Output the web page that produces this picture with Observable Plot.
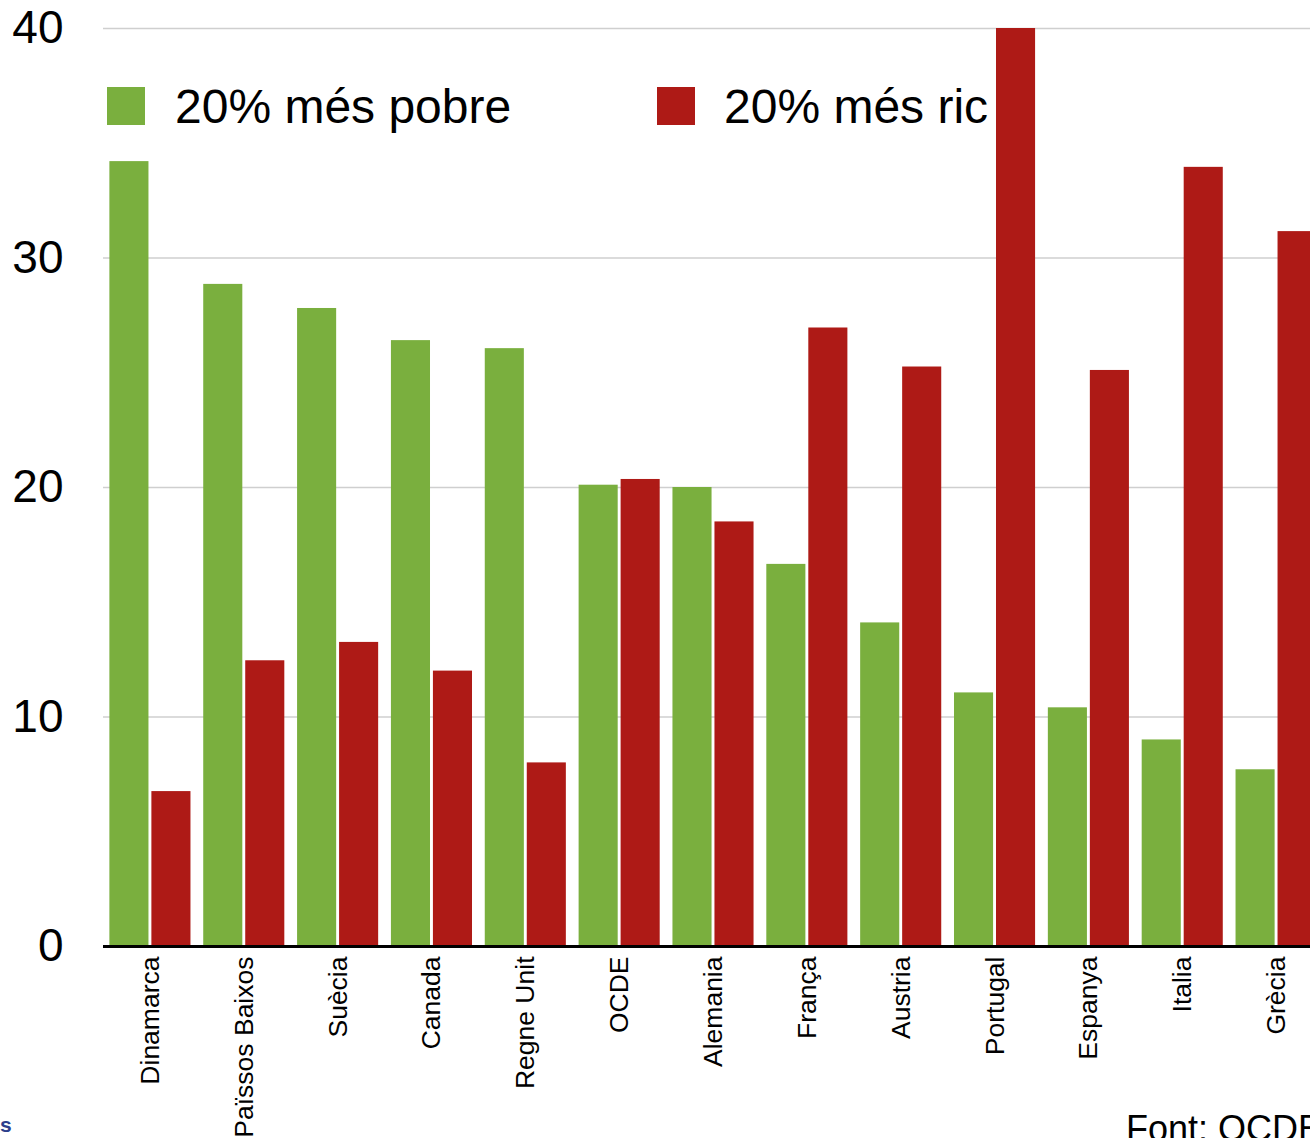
<!DOCTYPE html>
<html><head><meta charset="utf-8">
<script src="https://cdn.jsdelivr.net/npm/d3@7"></script>
<script src="https://cdn.jsdelivr.net/npm/@observablehq/plot@0.6"></script>
<style>
html,body{margin:0;padding:0;overflow:hidden;background:#fff;width:1310px;height:1138px}
#wrap{position:relative;width:1310px;height:1138px;overflow:hidden;font-family:"Liberation Sans",Arial,Helvetica,sans-serif}
#wrap svg{position:absolute;left:0;top:0;max-width:none !important}
.sw{position:absolute;width:38px;height:38px}
.lt{position:absolute;font-size:48px;line-height:48px;color:#000;white-space:nowrap}
.src{position:absolute;left:1126px;top:1111px;font-size:36px;line-height:36px;color:#000;white-space:nowrap}
.logo{position:absolute;left:0px;top:1114px;font-size:21px;font-weight:bold;color:#2d3f8c;line-height:21px}
</style></head>
<body><div id="wrap"></div>
<script>
const countries = ["Dinamarca","Païssos Baixos","Suècia","Canada","Regne Unit","OCDE","Alemania","França","Austria","Portugal","Espanya","Italia","Grècia"];
const poorest = [34.2, 28.85, 27.8, 26.4, 26.05, 20.1, 20.0, 16.65, 14.1, 11.05, 10.4, 9.0, 7.7];
const richest = [6.75, 12.45, 13.25, 12.0, 8.0, 20.35, 18.5, 26.95, 25.25, 40.0, 25.1, 33.95, 31.15];
const yTicks = [0, 10, 20, 30, 40];
const seriesNames = ["20% més pobre", "20% més ric"];
const seriesColors = ["#7aaf3e", "#ae1a16"];
const sourceText = "Font: OCDE";

const data = countries.flatMap((c, i) => [
  {country: c, series: seriesNames[0], value: poorest[i]},
  {country: c, series: seriesNames[1], value: richest[i]}
]);

const chart = Plot.plot({
  width: 1330, height: 1138,
  marginLeft: 103, marginRight: 7, marginTop: 28, marginBottom: 192,
  style: {fontFamily: "'Liberation Sans', Arial, Helvetica, sans-serif", background: "transparent", color: "#000", maxWidth: "none"},
  x: {domain: countries, paddingInner: 0.136, paddingOuter: 0.068, round: false, label: null},
  y: {domain: [0, 40], label: null},
  color: {domain: seriesNames, range: seriesColors},
  marks: [
    Plot.ruleY(yTicks.filter(d => d > 0), {stroke: "#cfcfcf", strokeWidth: 1.5}),
    Plot.barY(data.filter(d => d.series === seriesNames[0]), {x: "country", y: "value", fill: "series", insetRight: 42}),
    Plot.barY(data.filter(d => d.series === seriesNames[1]), {x: "country", y: "value", fill: "series", insetLeft: 42}),
    Plot.ruleY([0], {stroke: "#000", strokeWidth: 3}),
    Plot.axisY({ticks: yTicks, tickSize: 0, tickPadding: 40, fontSize: 46, label: null}),
    Plot.axisX({tickRotate: -90, tickSize: 0, tickPadding: 10, fontSize: 26.5, label: null})
  ]
});
const wrap = document.getElementById("wrap");
wrap.appendChild(chart);

const legendPos = [{sw: 107, tx: 175}, {sw: 657, tx: 724}];
seriesNames.forEach((name, i) => {
  const s = document.createElement("div");
  s.className = "sw";
  s.style.left = legendPos[i].sw + "px";
  s.style.top = "87px";
  s.style.background = seriesColors[i];
  wrap.appendChild(s);
  const t = document.createElement("div");
  t.className = "lt";
  t.style.left = legendPos[i].tx + "px";
  t.style.top = "83px";
  t.textContent = name;
  wrap.appendChild(t);
});
const src = document.createElement("div");
src.className = "src";
src.textContent = sourceText;
wrap.appendChild(src);
const logo = document.createElement("div");
logo.className = "logo";
logo.textContent = "s";
wrap.appendChild(logo);
</script>
</body></html>
